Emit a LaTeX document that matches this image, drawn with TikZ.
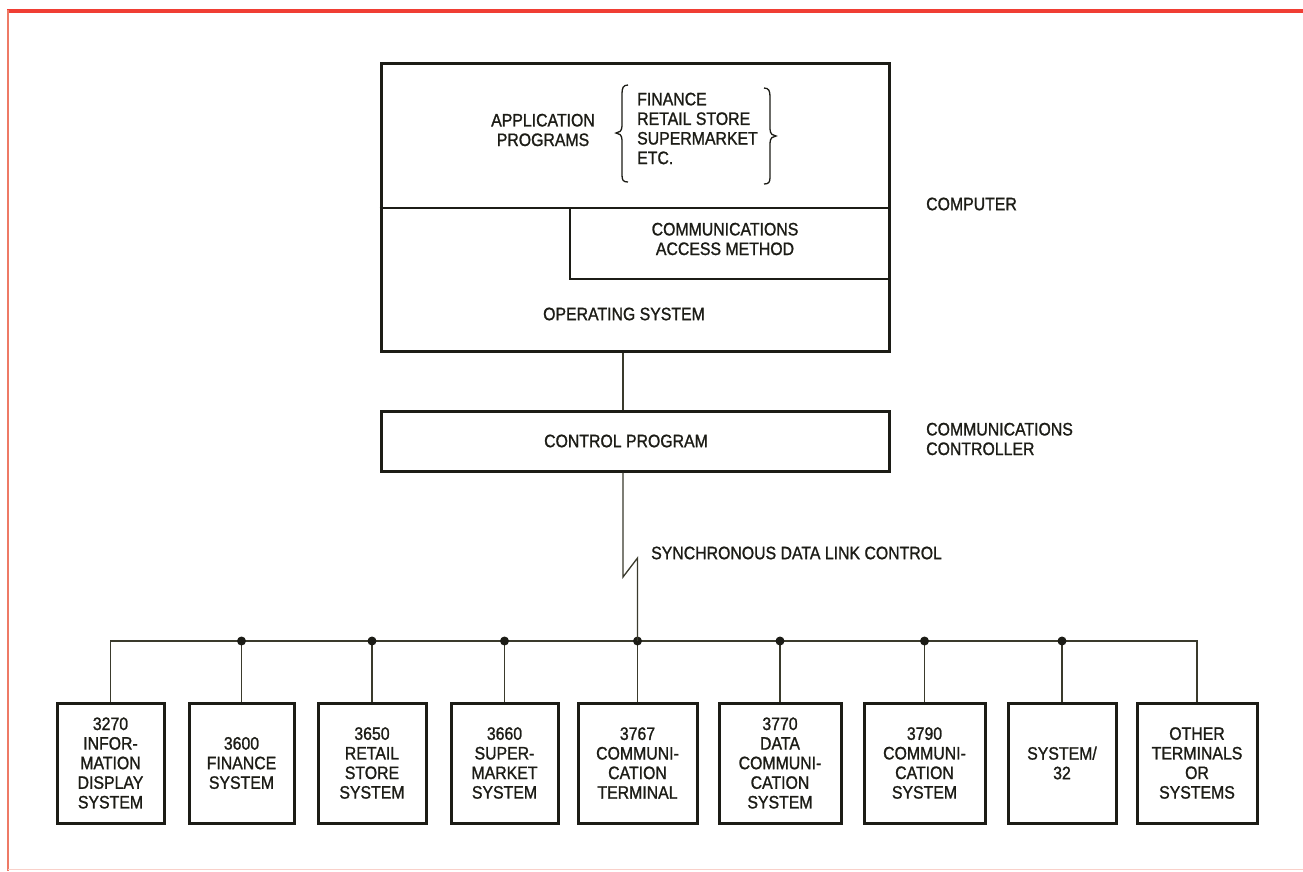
\documentclass[tikz,border=0pt]{standalone}
\usepackage{fontspec}
\setmainfont{Liberation Sans}[FakeStretch=0.88,FakeBold=1.2]
\definecolor{ink}{HTML}{1C1C16}
\definecolor{wirec}{HTML}{3A3A2C}
\definecolor{redline}{HTML}{F03E34}
\definecolor{redleft}{HTML}{EE7A66}
\tikzset{
  lbl/.style={font=\fontsize{18}{19.6}\selectfont, text=ink, inner sep=0pt, align=center},
  bigbox/.style={draw=ink, line width=3pt, inner sep=0pt},
  termbox/.style={draw=ink, line width=3pt, inner sep=0pt, minimum height=120pt,
    font=\fontsize{18}{19.6}\selectfont, text=ink, align=center},
  wire/.style={draw=wirec, line width=1.3pt},
  divider/.style={draw=ink, line width=2pt},
  dot/.style={fill=ink}
}
\begin{document}
\begin{tikzpicture}[x=1pt,y=-1pt]
\useasboundingbox[fill=white] (0,0) rectangle (1303,871);
% frame
\draw[redline, line width=4pt] (7,11) -- (1303,11);
\draw[redleft, line width=2.2pt] (8,10) -- (8,871);
\draw[redleft!35, line width=1pt] (8,869) -- (1303,869);

% computer
\node[bigbox, minimum width=508pt, minimum height=288pt] (comp) at (635,207) {};
\draw[divider] (comp.west |- 0,208) -- (comp.east |- 0,208);
\draw[divider] (570,208) |- (comp.east |- 0,279);
\node[lbl] (app) at (543,130) {APPLICATION\\PROGRAMS};
\node[lbl, align=left, anchor=west] (list) at (637,128.5) {FINANCE\\RETAIL STORE\\SUPERMARKET\\ETC.};
% braces
\draw[ink, line width=1.3pt] (628,85) .. controls (623,85) and (622,88) .. (622,94)
  -- (622,126) .. controls (622,131) and (619,133) .. (616,133)
  .. controls (619,133) and (622,135) .. (622,140) -- (622,175)
  .. controls (622,180) and (623,182) .. (628,182);
\draw[ink, line width=1.3pt] (764,88) .. controls (769,88) and (770,91) .. (770,97)
  -- (770,129) .. controls (770,134) and (773,136) .. (776,136)
  .. controls (773,136) and (770,138) .. (770,143) -- (770,177)
  .. controls (770,182) and (769,184) .. (764,184);
\node[lbl] (cam) at (725,239) {COMMUNICATIONS\\ACCESS METHOD};
\node[lbl] (os) at (624,314) {OPERATING SYSTEM};
\node[lbl, anchor=west] (complbl) at (926,204) {COMPUTER};

% control program
\node[bigbox, minimum width=508pt, minimum height=60pt] (cp) at (635,441) {};
\node[lbl] (cptext) at (626,441) {CONTROL PROGRAM};
\node[lbl, anchor=west, align=left] (cclbl) at (926,439) {COMMUNICATIONS\\CONTROLLER};
\coordinate (link) at (623,0);
\draw[wire] (comp.south -| link) -- (cp.north -| link);

% terminals
\node[termbox, minimum width=107pt] (b1) at (110.5,763) {3270\\INFOR-\\MATION\\DISPLAY\\SYSTEM};
\node[termbox, minimum width=105pt] (b2) at (241.5,763) {3600\\FINANCE\\SYSTEM};
\node[termbox, minimum width=108pt] (b3) at (372,763) {3650\\RETAIL\\STORE\\SYSTEM};
\node[termbox, minimum width=107pt] (b4) at (504.5,763) {3660\\SUPER-\\MARKET\\SYSTEM};
\node[termbox, minimum width=119pt] (b5) at (637.5,763) {3767\\COMMUNI-\\CATION\\TERMINAL};
\node[termbox, minimum width=122pt] (b6) at (780,763) {3770\\DATA\\COMMUNI-\\CATION\\SYSTEM};
\node[termbox, minimum width=121pt] (b7) at (924.5,763) {3790\\COMMUNI-\\CATION\\SYSTEM};
\node[termbox, minimum width=108pt] (b8) at (1062,763) {SYSTEM/\\32};
\node[termbox, minimum width=120pt] (b9) at (1197,763) {OTHER\\TERMINALS\\OR\\SYSTEMS};

\coordinate (busy) at (0,641);
\draw[wire] (b1.north) |- (b9.north |- busy) -- (b9.north);
\foreach \b in {b2,b3,b4,b6,b7,b8}{
  \draw[wire] (\b.north |- busy) -- (\b.north);
  \fill[dot] (\b.north |- busy) circle (4.5pt);
}
\draw[wire] (b5.north |- busy) -- (b5.north);
\fill[dot] (b5.north |- busy) circle (4.5pt);
% SDLC link with zigzag
\coordinate (zz1) at (623,577);
\coordinate (zz2) at (637,558);
\draw[wire] (cp.south -| link) -- (zz1) -- (zz2 -| b5.north) -- (b5.north |- busy);
\node[lbl, anchor=west] (sdlc) at (651,553) {SYNCHRONOUS DATA LINK CONTROL};
\end{tikzpicture}
\end{document}
